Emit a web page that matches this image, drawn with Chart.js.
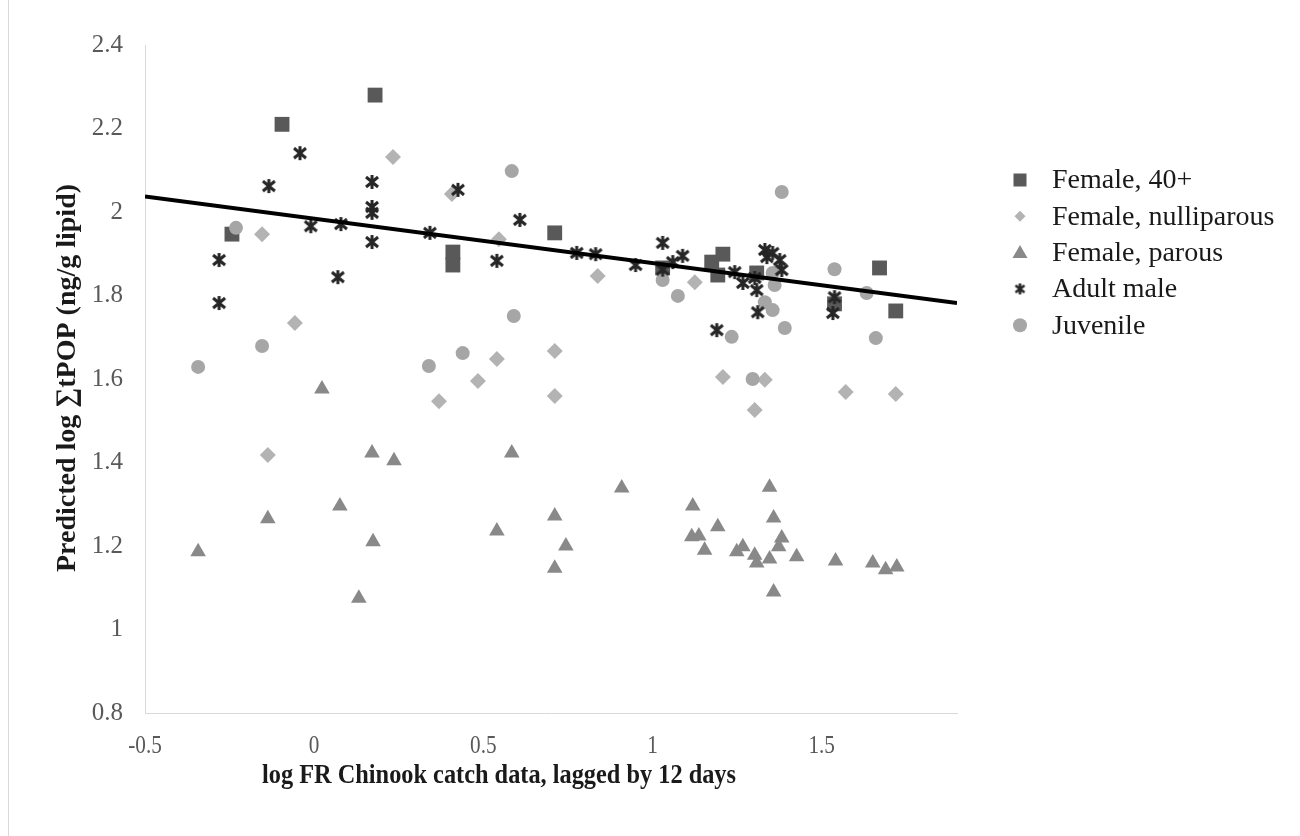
<!DOCTYPE html>
<html>
<head>
<meta charset="utf-8">
<script src="https://cdn.jsdelivr.net/npm/chart.js"></script>
<style>
  html, body { margin: 0; padding: 0; background: #fff; }
  #wrap { width: 1300px; height: 836px; position: relative; }
</style>
</head>
<body>
<div id="wrap"><canvas id="chart"></canvas></div>
<script>
// values
var female40X = [-0.095, 0.18, -0.243, 0.41, 0.41, 0.711, 1.03, 1.175, 1.208, 1.193, 1.308, 1.538, 1.671, 1.719];
var female40Y = [2.21, 2.28, 1.947, 1.904, 1.873, 1.95, 1.866, 1.88, 1.899, 1.849, 1.854, 1.78, 1.866, 1.763];

var nulliX = [0.233, -0.154, -0.057, 0.407, 0.546, 0.838, 1.125, 0.711, 0.540, 1.208, 1.332, 1.571, 1.719, -0.137, 0.369, 0.484, 0.711, 1.302];
var nulliY = [2.132, 1.947, 1.734, 2.043, 1.935, 1.847, 1.832, 1.667, 1.648, 1.605, 1.598, 1.569, 1.564, 1.418, 1.547, 1.595, 1.559, 1.526];

var parousX = [-0.343, -0.137, 0.023, 0.076, 0.132, 0.171, 0.174, 0.236, 0.540, 0.584, 0.711, 0.744, 0.711, 0.909, 1.119, 1.116, 1.137, 1.154, 1.193, 1.249, 1.267, 1.302, 1.308, 1.346, 1.346, 1.358, 1.358, 1.382, 1.373, 1.426, 1.541, 1.651, 1.689, 1.722];
var parousY = [1.186, 1.265, 1.576, 1.296, 1.075, 1.423, 1.210, 1.404, 1.236, 1.423, 1.272, 1.200, 1.147, 1.339, 1.296, 1.222, 1.224, 1.190, 1.246, 1.186, 1.198, 1.178, 1.159, 1.169, 1.341, 1.267, 1.090, 1.219, 1.198, 1.174, 1.164, 1.159, 1.143, 1.150];

var maleX = [-0.042, -0.134, -0.281, -0.281, -0.010, 0.079, 0.070, 0.171, 0.171, 0.171, 0.171, 0.342, 0.425, 0.608, 0.540, 0.776, 0.832, 0.950, 1.030, 1.060, 1.089, 1.030, 1.190, 1.243, 1.267, 1.302, 1.308, 1.311, 1.332, 1.338, 1.355, 1.376, 1.382, 1.538, 1.533];
var maleY = [2.141, 2.062, 1.885, 1.782, 1.966, 1.971, 1.844, 2.072, 2.012, 1.998, 1.928, 1.950, 2.053, 1.981, 1.883, 1.902, 1.899, 1.873, 1.926, 1.880, 1.895, 1.862, 1.717, 1.856, 1.830, 1.842, 1.813, 1.760, 1.909, 1.892, 1.902, 1.885, 1.861, 1.796, 1.758];

var juvX = [-0.231, -0.154, -0.343, 0.339, 0.439, 0.584, 0.590, 1.030, 1.075, 1.382, 1.234, 1.355, 1.361, 1.332, 1.355, 1.391, 1.296, 1.538, 1.633, 1.660];
var juvY = [1.962, 1.679, 1.629, 1.631, 1.662, 2.098, 1.751, 1.837, 1.799, 2.048, 1.701, 1.854, 1.825, 1.784, 1.765, 1.722, 1.600, 1.863, 1.806, 1.698];

var trendX = [-0.5, 1.9];
var trendY = [2.037, 1.782];

var xTicks = [-0.5, 0, 0.5, 1, 1.5];
var yTicks = [0.8, 1, 1.2, 1.4, 1.6, 1.8, 2, 2.2, 2.4];

var seriesNames = ['Female, 40+', 'Female, nulliparous', 'Female, parous', 'Adult male', 'Juvenile'];

function pts(xs, ys) {
    return xs.map(function(x, i) { return { x: x, y: ys[i] }; });
}

function fmt(v) {
    return String(Math.round(v * 100) / 100);
}

// asterisk marker like the spreadsheet "star": an X with a vertical bar
function makeStar(size, lw) {
    var c = document.createElement('canvas');
    c.width = size; c.height = size;
    var g = c.getContext('2d');
    var m = 2, s = size;
    g.strokeStyle = '#262626';
    g.lineWidth = lw;
    g.beginPath();
    g.moveTo(m, m + 1); g.lineTo(s - m, s - m - 1);
    g.moveTo(s - m, m + 1); g.lineTo(m, s - m - 1);
    g.moveTo(s / 2, 1); g.lineTo(s / 2, s - 1);
    g.stroke();
    return c;
}
var starImg = makeStar(16, 3);
var starSmall = makeStar(13, 2.6);

var serif = '"Liberation Serif", "Times New Roman", serif';

var colors = ['#595959', '#b3b3b3', '#898989', '#262626', '#a6a6a6'];

var extras = {
    id: 'extras',
    beforeDraw: function(chart) {
        var ctx = chart.ctx;
        ctx.save();
        ctx.fillStyle = '#fff';
        ctx.fillRect(0, 0, chart.width, chart.height);
        ctx.strokeStyle = '#d9d9d9';
        ctx.lineWidth = 1;
        ctx.beginPath();
        ctx.moveTo(8.5, 0); ctx.lineTo(8.5, chart.height);
        ctx.stroke();
        ctx.restore();
    },
    afterDraw: function(chart) {
        var ctx = chart.ctx;
        var xs = chart.scales.x;
        ctx.save();

        // x tick labels (narrow, as in the reference)
        ctx.fillStyle = '#595959';
        ctx.font = '25px ' + serif;
        ctx.textAlign = 'center';
        ctx.textBaseline = 'middle';
        xTicks.forEach(function(v) {
            ctx.save();
            ctx.translate(xs.getPixelForValue(v), 746);
            ctx.scale(0.85, 1);
            ctx.fillText(fmt(v), 0, 0);
            ctx.restore();
        });

        // axis titles
        ctx.fillStyle = '#1a1a1a';
        ctx.font = 'bold 27px ' + serif;
        ctx.fillText('log FR Chinook catch data, lagged by 12 days', 499, 776, 474);
        ctx.save();
        ctx.translate(68, 378);
        ctx.rotate(-Math.PI / 2);
        ctx.font = 'bold 28px ' + serif;
        ctx.fillText('Predicted log \u2211tPOP (ng/g lipid)', 0, 0, 395);
        ctx.restore();

        // legend
        var lx = 1020, ly = 180, step = 36.3;
        ctx.textAlign = 'left';
        ctx.font = '28px ' + serif;
        for (var i = 0; i < seriesNames.length; i++) {
            var y = ly + i * step;
            ctx.fillStyle = colors[i];
            ctx.beginPath();
            if (i === 0) {
                ctx.fillRect(lx - 6.5, y - 6.5, 13, 13);
            } else if (i === 1) {
                ctx.moveTo(lx, y - 5.5); ctx.lineTo(lx + 5.5, y); ctx.lineTo(lx, y + 5.5); ctx.lineTo(lx - 5.5, y);
                ctx.closePath(); ctx.fill();
            } else if (i === 2) {
                ctx.moveTo(lx, y - 7.5); ctx.lineTo(lx + 7.5, y + 5.5); ctx.lineTo(lx - 7.5, y + 5.5);
                ctx.closePath(); ctx.fill();
            } else if (i === 3) {
                ctx.drawImage(starSmall, lx - 6.5, y - 6.5);
            } else {
                ctx.arc(lx, y, 7, 0, Math.PI * 2); ctx.fill();
            }
            ctx.fillStyle = '#1a1a1a';
            ctx.fillText(seriesNames[i], 1052, y + 1);
        }
        ctx.restore();
    }
};

document.addEventListener("DOMContentLoaded", function() {
    var ctx = document.getElementById('chart').getContext('2d');
    var chart = new Chart(ctx, {
        type: 'scatter',
        data: {
            datasets: [{
                type: 'line',
                label: 'trend',
                data: pts(trendX, trendY),
                borderColor: '#000',
                borderWidth: 4,
                pointRadius: 0,
                fill: false,
                order: 0
            }, {
                label: seriesNames[3],
                data: pts(maleX, maleY),
                pointStyle: starImg,
                pointRadius: 8,
                order: 1
            }, {
                label: seriesNames[4],
                data: pts(juvX, juvY),
                pointStyle: 'circle',
                pointRadius: 7,
                backgroundColor: colors[4],
                borderWidth: 0,
                order: 2
            }, {
                label: seriesNames[2],
                data: pts(parousX, parousY),
                pointStyle: 'triangle',
                pointRadius: 9,
                backgroundColor: colors[2],
                borderWidth: 0,
                order: 3
            }, {
                label: seriesNames[1],
                data: pts(nulliX, nulliY),
                pointStyle: 'rectRot',
                pointRadius: 8,
                backgroundColor: colors[1],
                borderWidth: 0,
                order: 4
            }, {
                label: seriesNames[0],
                data: pts(female40X, female40Y),
                pointStyle: 'rect',
                pointRadius: 10.5,
                backgroundColor: colors[0],
                borderWidth: 0,
                order: 5
            }]
        },
        options: {
            responsive: true,
            maintainAspectRatio: false,
            animation: false,
            layout: { padding: { top: 45, right: 343, left: 0, bottom: 0 } },
            plugins: {
                legend: { display: false },
                tooltip: { enabled: false }
            },
            scales: {
                x: {
                    type: 'linear',
                    min: -0.5,
                    max: 1.9,
                    afterBuildTicks: function(s) { s.ticks = xTicks.map(function(v) { return { value: v }; }); },
                    afterFit: function(s) { s.height = 123; },
                    grid: { display: false, drawTicks: false },
                    border: { display: true, color: '#d9d9d9', width: 1 },
                    ticks: { display: false }
                },
                y: {
                    type: 'linear',
                    min: 0.8,
                    max: 2.4,
                    afterBuildTicks: function(s) { s.ticks = yTicks.map(function(v) { return { value: v }; }); },
                    afterFit: function(s) { s.width = 145; },
                    grid: { display: false, drawTicks: false },
                    border: { display: true, color: '#d9d9d9', width: 1 },
                    ticks: {
                        color: '#595959',
                        padding: 22,
                        font: { family: serif, size: 25 },
                        callback: function(v) { return fmt(v); }
                    }
                }
            }
        },
        plugins: [extras]
    });
});
</script>
</body>
</html>
